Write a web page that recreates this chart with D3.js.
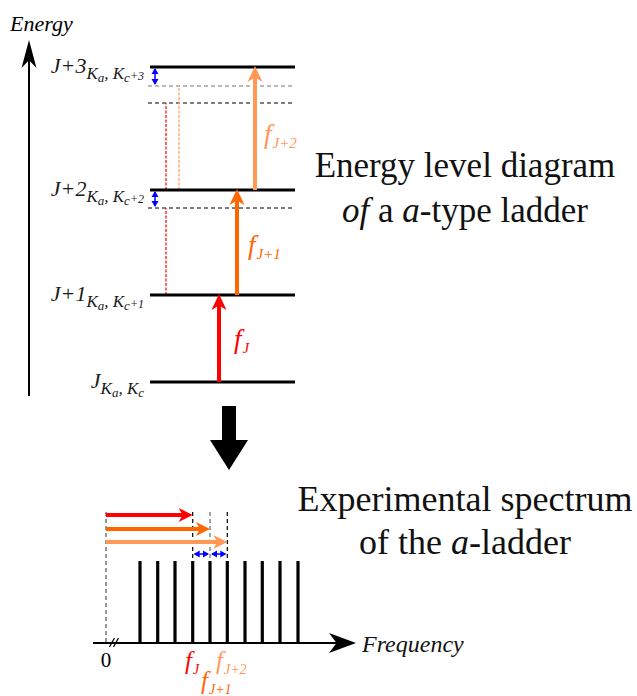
<!DOCTYPE html>
<html><head><meta charset="utf-8">
<script src="https://cdn.jsdelivr.net/npm/d3@7"></script>
<style>body{margin:0;background:#fff}svg{display:block}</style>
</head><body>
<svg id="c" width="637" height="696"></svg>
<script>
// ---- data ----
const levelNames = ["J", "J+1", "J+2", "J+3"];
const levelSubSuffix = ["", "+1", "+2", "+3"];
const levelEnergies = [0, 87, 192, 315];
const transitionLabels = ["J", "J+1", "J+2"];
const transitionFreqs = [87, 105, 123];
const ghostEnergies = [174, 279, 296];      // dashed "shifted" levels
const ghostFromEnergies = [87, 192, 192];   // dashed verticals start
const lineFreqs = [34, 51.7, 69, 86.7, 104, 121.3, 139, 156.3, 174, 192];
const markedFreqs = [86.7, 104, 121.3];
const titleTop = ["Energy level diagram", "of a a-type ladder"];
const titleBottom = ["Experimental spectrum", "of the a-ladder"];

// ---- setup ----
const svg = d3.select("#c");
const SERIF = "'Liberation Serif','DejaVu Serif',serif";
const colors = ["#ff0000", "#ff6600", "#ff9955"];
const BLUE = "#0000ff";

const yE = d3.scaleLinear().domain([0, 315]).range([382, 67]);
const xF = d3.scaleLinear().domain([0, 192]).range([106, 298]);
const levelX0 = 150, levelX1 = 295;

function notchedHead(g, tipX, tipY, dir, len, half, color) {
  let p;
  if (dir === "up") {
    p = `M${tipX},${tipY} L${tipX + half},${tipY + len} L${tipX},${tipY + len * 0.72} L${tipX - half},${tipY + len} Z`;
  } else {
    p = `M${tipX},${tipY} L${tipX - len},${tipY - half} L${tipX - len * 0.72},${tipY} L${tipX - len},${tipY + half} Z`;
  }
  g.append("path").attr("d", p).attr("fill", color);
}
function dblArrowV(g, x, y0, y1) {
  g.append("line").attr("x1", x).attr("x2", x).attr("y1", y0 + 2).attr("y2", y1 - 2)
    .attr("stroke", BLUE).attr("stroke-width", 1.5);
  g.append("path").attr("d", `M${x},${y0 + 1} L${x + 3.5},${y0 + 7} L${x - 3.5},${y0 + 7} Z`).attr("fill", BLUE);
  g.append("path").attr("d", `M${x},${y1 - 1} L${x + 3.5},${y1 - 7} L${x - 3.5},${y1 - 7} Z`).attr("fill", BLUE);
}
function dblArrowH(g, x0, x1, y) {
  g.append("line").attr("x1", x0 + 2).attr("x2", x1 - 2).attr("y1", y).attr("y2", y)
    .attr("stroke", BLUE).attr("stroke-width", 1.5);
  g.append("path").attr("d", `M${x0 + 1},${y} L${x0 + 7},${y - 3.5} L${x0 + 7},${y + 3.5} Z`).attr("fill", BLUE);
  g.append("path").attr("d", `M${x1 - 1},${y} L${x1 - 7},${y - 3.5} L${x1 - 7},${y + 3.5} Z`).attr("fill", BLUE);
}
function fLabel(g, x, y, sub, color, fs, ss) {
  const t = g.append("text").attr("x", x).attr("y", y).attr("fill", color)
    .attr("font-family", SERIF).attr("font-style", "italic");
  t.append("tspan").attr("font-size", fs).text("f");
  t.append("tspan").attr("font-size", ss).attr("dy", 5).attr("dx", 1).text(sub);
}

const gTop = svg.append("g");

// Energy axis
gTop.append("line").attr("x1", 29).attr("x2", 29).attr("y1", 396).attr("y2", 60)
  .attr("stroke", "#000").attr("stroke-width", 2);
notchedHead(gTop, 29, 40, "up", 28, 7.5, "#000");
gTop.append("text").attr("x", 10).attr("y", 31).attr("font-family", SERIF)
  .attr("font-style", "italic").attr("font-size", 22).text("Energy");

// ghost dashed levels
ghostEnergies.forEach((e, i) => {
  gTop.append("line").attr("x1", 148).attr("x2", levelX1).attr("y1", yE(e)).attr("y2", yE(e))
    .attr("stroke", i === 2 ? "#777" : "#000").attr("stroke-width", 1.1).attr("stroke-dasharray", "4,3");
});
const ghostX = [166, 166, 179];
const ghostColor = [colors[0], colors[0], colors[2]];
ghostEnergies.forEach((e, i) => {
  gTop.append("line").attr("x1", ghostX[i]).attr("x2", ghostX[i])
    .attr("y1", yE(ghostFromEnergies[i])).attr("y2", yE(e))
    .attr("stroke", ghostColor[i]).attr("stroke-width", 1.2).attr("stroke-dasharray", "3,1.5");
});

// levels
levelEnergies.forEach((e, i) => {
  gTop.append("line").attr("x1", levelX0).attr("x2", levelX1).attr("y1", yE(e)).attr("y2", yE(e))
    .attr("stroke", "#000").attr("stroke-width", 3);
  const t = gTop.append("text").attr("x", 144).attr("y", yE(e) + 6).attr("text-anchor", "end")
    .attr("font-family", SERIF).attr("font-style", "italic").attr("fill", "#1a1a1a");
  t.append("tspan").attr("font-size", 22).text(levelNames[i]);
  t.append("tspan").attr("font-size", 17).attr("dy", 6).text("K");
  t.append("tspan").attr("font-size", 13).attr("dy", 3).text("a");
  t.append("tspan").attr("font-size", 17).attr("dy", -3).text(", K");
  t.append("tspan").attr("font-size", 13).attr("dy", 3).text("c");
  t.append("tspan").attr("font-size", 12).attr("dy", -2).text(levelSubSuffix[i]);
});

dblArrowV(gTop, 155, yE(levelEnergies[3]), yE(ghostEnergies[2]));
dblArrowV(gTop, 155, yE(levelEnergies[2]), yE(ghostEnergies[0]));

const arrowX = [219, 237, 255];
transitionFreqs.forEach((f, i) => {
  const y0 = yE(levelEnergies[i]), y1 = yE(levelEnergies[i + 1]);
  gTop.append("line").attr("x1", arrowX[i]).attr("x2", arrowX[i]).attr("y1", y0).attr("y2", y1 + 10)
    .attr("stroke", colors[i]).attr("stroke-width", 4);
  notchedHead(gTop, arrowX[i], y1 - 1, "up", 16, 7.5, colors[i]);
});
fLabel(gTop, 234, 348, transitionLabels[0], colors[0], 27, 15);
fLabel(gTop, 248, 254, transitionLabels[1], colors[1], 27, 15);
fLabel(gTop, 264, 143, transitionLabels[2], colors[2], 27, 15);

const titleT = svg.append("text").attr("font-family", SERIF).attr("font-size", 35)
  .attr("text-anchor", "middle").attr("fill", "#111");
titleT.append("tspan").attr("x", 465).attr("y", 177).text(titleTop[0]);
const l2 = titleT.append("tspan").attr("x", 465).attr("y", 222);
l2.append("tspan").attr("font-style", "italic").text("of");
l2.append("tspan").text(" a ");
l2.append("tspan").attr("font-style", "italic").text("a");
l2.append("tspan").text("-type ladder");

svg.append("path").attr("d", "M222,406 L236,406 L236,440 L248,440 L229,470 L210,440 L222,440 Z").attr("fill", "#000");

// ---- spectrum ----
const bot = svg.append("g");
const axisY = 643;
bot.append("line").attr("x1", 93).attr("x2", 340).attr("y1", axisY).attr("y2", axisY)
  .attr("stroke", "#000").attr("stroke-width", 2);
notchedHead(bot, 356, axisY, "right", 27, 10, "#000");
bot.append("text").attr("x", 362).attr("y", 652).attr("font-family", SERIF)
  .attr("font-style", "italic").attr("font-size", 24).attr("fill", "#111").text("Frequency");
bot.append("line").attr("x1", xF(0)).attr("x2", xF(0)).attr("y1", 512).attr("y2", axisY)
  .attr("stroke", "#555").attr("stroke-width", 1.2).attr("stroke-dasharray", "4,3");
bot.append("text").attr("x", xF(0)).attr("y", 667).attr("text-anchor", "middle")
  .attr("font-family", SERIF).attr("font-size", 21).text("0");
[112, 116].forEach(x => bot.append("line").attr("x1", x - 2.5).attr("x2", x + 2.5)
  .attr("y1", axisY + 4).attr("y2", axisY - 5).attr("stroke", "#000").attr("stroke-width", 1.3));

bot.selectAll(".sl").data(lineFreqs).enter().append("line")
  .attr("x1", d => xF(d)).attr("x2", d => xF(d)).attr("y1", 561).attr("y2", axisY)
  .attr("stroke", "#000").attr("stroke-width", 3.2);

markedFreqs.forEach((f, i) => {
  bot.append("line").attr("x1", xF(f)).attr("x2", xF(f)).attr("y1", 512).attr("y2", 561)
    .attr("stroke", i === 1 ? "#666" : "#000").attr("stroke-width", 1.2).attr("stroke-dasharray", "4,3");
});
const harrY = [515, 529, 542];
markedFreqs.forEach((f, i) => {
  bot.append("line").attr("x1", xF(0)).attr("x2", xF(f) - 10).attr("y1", harrY[i]).attr("y2", harrY[i])
    .attr("stroke", colors[i]).attr("stroke-width", 4);
  notchedHead(bot, xF(f), harrY[i], "right", 14, 7, colors[i]);
});
dblArrowH(bot, xF(markedFreqs[0]), xF(markedFreqs[1]), 554);
dblArrowH(bot, xF(markedFreqs[1]), xF(markedFreqs[2]), 554);

fLabel(bot, 185, 669, transitionLabels[0], colors[0], 25, 14);
fLabel(bot, 201, 689, transitionLabels[1], colors[1], 25, 14);
fLabel(bot, 216, 669, transitionLabels[2], colors[2], 25, 14);

const tb = svg.append("text").attr("font-family", SERIF).attr("font-size", 36)
  .attr("text-anchor", "middle").attr("fill", "#111");
tb.append("tspan").attr("x", 465).attr("y", 511).text(titleBottom[0]);
const b2 = tb.append("tspan").attr("x", 465).attr("y", 554);
b2.append("tspan").text("of the ");
b2.append("tspan").attr("font-style", "italic").text("a");
b2.append("tspan").text("-ladder");
</script>
</body></html>
